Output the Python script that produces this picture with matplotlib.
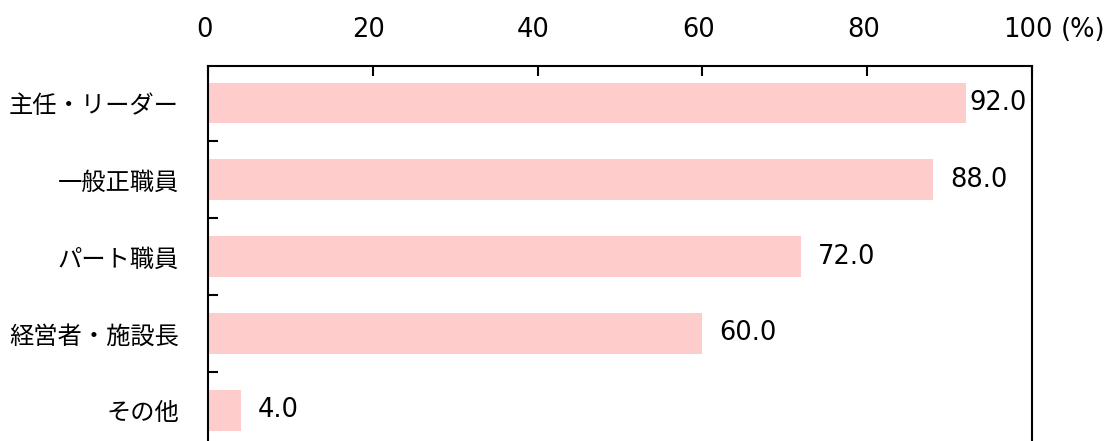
import matplotlib.pyplot as plt
import matplotlib.transforms as mtransforms
import numpy as np

plt.rcParams['font.family'] = ['Noto Sans CJK JP', 'DejaVu Sans']

categories = ['主任・リーダー', '一般正職員', 'パート職員', '経営者・施設長', 'その他']
values = [92.0, 88.0, 72.0, 60.0, 4.0]
xticks = [0, 20, 40, 60, 80, 100]
xticklabels = ['0', '20', '40', '60', '80', '100']

bar_color = '#ffcccc'
num_font = 'DejaVu Sans'
num_size = 18.5

fig = plt.figure(figsize=(11.17, 4.41), dpi=100)
ax = fig.add_axes([208 / 1117, -0.014, (1032 - 208) / 1117, 0.864])

y = np.arange(len(categories))
ax.barh(y, values, height=0.53, color=bar_color)

ax.set_xlim(0, 100)
ax.set_ylim(len(categories) - 0.52, -0.48)

# value labels (the one near the right edge is pulled inside the frame)
for yi, v in zip(y, values):
    if v > 90:
        ax.annotate('{:.1f}'.format(v), (100, yi), xytext=(-4, 0), textcoords='offset points',
                    ha='right', va='center', fontsize=num_size, family=num_font)
    else:
        ax.annotate('{:.1f}'.format(v), (v, yi), xytext=(12, 0), textcoords='offset points',
                    ha='left', va='center', fontsize=num_size, family=num_font)

# x axis on top
ax.xaxis.tick_top()
ax.set_xticks(xticks)
ax.set_xticklabels(xticklabels, fontsize=num_size, family=num_font)
ax.tick_params(axis='x', direction='in', length=7, width=1.5, pad=17)
shift = mtransforms.ScaledTranslation(-4 / 100, 0, fig.dpi_scale_trans)
for lbl in ax.get_xticklabels():
    lbl.set_transform(lbl.get_transform() + shift)

# y axis: labels at bars, ticks between
ax.set_yticks(y)
ax.set_yticklabels(categories, fontsize=17.5)
ax.set_yticks(np.arange(len(categories) - 1) + 0.5, minor=True)
ax.tick_params(axis='y', which='major', length=0, pad=21)
ax.tick_params(axis='y', which='minor', direction='in', length=7, width=1.5)

for s in ax.spines.values():
    s.set_linewidth(1.5)

# unit after the last tick label
fig.canvas.draw()
last = ax.get_xticklabels()[-1]
bb = last.get_window_extent()
fig.text(bb.x1 + 8, bb.y0, '(%)', transform=None, ha='left', va='bottom',
         fontsize=num_size, family=num_font)

plt.savefig('out.png', dpi=100)
